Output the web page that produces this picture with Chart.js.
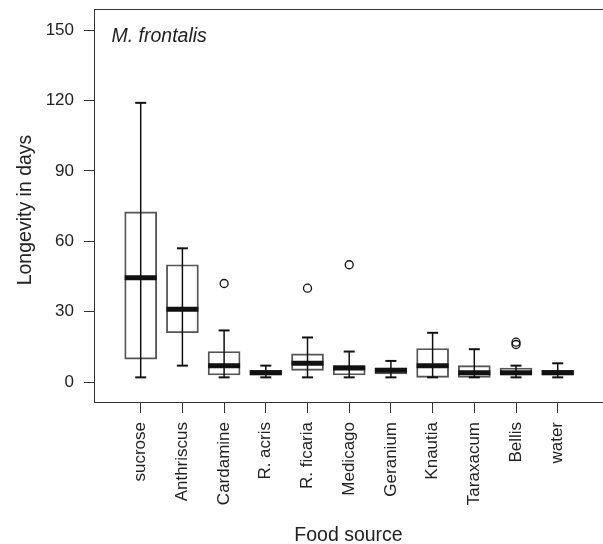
<!DOCTYPE html>
<html>
<head>
<meta charset="utf-8">
<script src="https://cdn.jsdelivr.net/npm/chart.js@4/dist/chart.umd.min.js"></script>
<style>
html,body{margin:0;padding:0;background:#fff;}
canvas{display:block;}
</style>
</head>
<body>
<canvas id="c" width="603" height="544"></canvas>
<script>
// ---- data ----
const categories = ['sucrose','Anthriscus','Cardamine','R. acris','R. ficaria','Medicago','Geranium','Knautia','Taraxacum','Bellis','water'];
const whiskerLow  = [2, 7, 2, 2, 2, 2, 2, 2, 2, 2, 2];
const q1          = [9.8, 21, 3, 3, 5, 3, 3.5, 2, 2, 3, 3];
const median      = [44.5, 31, 7, 4, 8, 6, 5, 7, 4, 4, 4];
const q3          = [72.5, 50, 13, 5, 12, 7, 6, 14.3, 7, 6, 5];
const whiskerHigh = [119, 57, 22, 7, 19, 13, 9, 21, 14, 7, 8];
const outlierCat  = [2, 4, 5, 9, 9];
const outlierVal  = [42, 40, 50, 17, 16];
const yTicks = [0, 30, 60, 90, 120, 150];
const yTitle = 'Longevity in days';
const xTitle = 'Food source';
const panelLabel = 'M. frontalis';

// ---- derived datasets ----
const boxData = categories.map((c, i) => ({x: i, y: [q1[i], q3[i]]}));
const whiskerData = [];
categories.forEach((c, i) => {
  whiskerData.push({x: i, y: whiskerLow[i]});
  whiskerData.push({x: i, y: whiskerHigh[i]});
  whiskerData.push({x: i, y: null});
});
const capData = [];
categories.forEach((c, i) => {
  capData.push({x: i, y: whiskerLow[i]});
  capData.push({x: i, y: whiskerHigh[i]});
});
const medianData = categories.map((c, i) => ({x: i, y: median[i]}));
const outlierData = outlierCat.map((ci, k) => ({x: ci, y: outlierVal[k]}));

const FONT = '"Liberation Sans", Arial, Helvetica, sans-serif';
const TXT = '#222';

const decor = {
  id: 'decor',
  afterDraw(chart) {
    const ctx = chart.ctx;
    const a = chart.chartArea;
    ctx.save();
    // top frame line
    ctx.strokeStyle = '#333';
    ctx.lineWidth = 1;
    ctx.beginPath();
    ctx.moveTo(a.left, a.top + 0.5);
    ctx.lineTo(a.right, a.top + 0.5);
    ctx.stroke();
    ctx.fillStyle = TXT;
    // panel label
    ctx.font = 'italic 19.5px ' + FONT;
    ctx.textAlign = 'left';
    ctx.textBaseline = 'alphabetic';
    ctx.fillText(panelLabel, 111.5, 41.5);
    // x title
    ctx.font = '19.5px ' + FONT;
    ctx.textAlign = 'center';
    ctx.fillText(xTitle, (a.left + a.right) / 2, 541);
    // y title
    ctx.translate(31, 210);
    ctx.rotate(-Math.PI / 2);
    ctx.fillText(yTitle, 0, 0);
    ctx.restore();
  }
};

new Chart(document.getElementById('c'), {
  type: 'bar',
  data: {
    datasets: [
      {
        type: 'bar', order: 4, data: boxData, grouped: false,
        barThickness: 32, backgroundColor: 'rgba(255,255,255,0)',
        borderColor: '#555', borderWidth: 1.2, borderSkipped: false
      },
      {
        type: 'line', order: 3, data: whiskerData, spanGaps: false,
        borderColor: '#111', borderWidth: 1.5, pointRadius: 0, fill: false
      },
      {
        type: 'line', order: 2, data: capData, showLine: false,
        pointStyle: 'line', pointRadius: 5.5, pointBorderWidth: 2,
        pointBorderColor: '#111'
      },
      {
        type: 'line', order: 1, data: medianData, showLine: false,
        pointStyle: 'line', pointRadius: 16, pointBorderWidth: 5,
        pointBorderColor: '#111'
      },
      {
        type: 'line', order: 0, data: outlierData, showLine: false,
        pointStyle: 'circle', pointRadius: 4, pointBorderWidth: 1.3,
        pointBorderColor: '#111', pointBackgroundColor: 'rgba(255,255,255,0)'
      }
    ]
  },
  options: {
    responsive: false,
    animation: false,
    devicePixelRatio: 1,
    layout: {autoPadding: false, padding: {top: 9, right: 0, left: 0, bottom: 0}},
    plugins: {legend: {display: false}, tooltip: {enabled: false}},
    scales: {
      x: {
        type: 'linear', min: -1.12, max: 11.086, offset: false,
        afterBuildTicks: (s) => { s.ticks = categories.map((c, i) => ({value: i})); },
        afterFit: (s) => { s.height = 142; s.paddingLeft = 0; s.paddingRight = 0; },
        grid: {display: true, drawOnChartArea: false, drawTicks: true, tickLength: 11, color: '#333', offset: false},
        border: {display: true, color: '#333', width: 1},
        ticks: {
          autoSkip: false, minRotation: 90, maxRotation: 90, padding: 9,
          color: TXT, font: {family: FONT, size: 17},
          callback: (v) => categories[v]
        }
      },
      y: {
        type: 'linear', min: -8.5, max: 159, beginAtZero: false,
        afterBuildTicks: (s) => { s.ticks = yTicks.map(v => ({value: v})); },
        afterFit: (s) => { s.width = 94; s.paddingTop = 0; s.paddingBottom = 0; },
        grid: {display: true, drawOnChartArea: false, drawTicks: true, tickLength: 10, color: '#333'},
        border: {display: true, color: '#333', width: 1},
        ticks: {padding: 10, color: TXT, font: {family: FONT, size: 17}, callback: (v) => String(v)}
      }
    }
  },
  plugins: [decor]
});
</script>
</body>
</html>
